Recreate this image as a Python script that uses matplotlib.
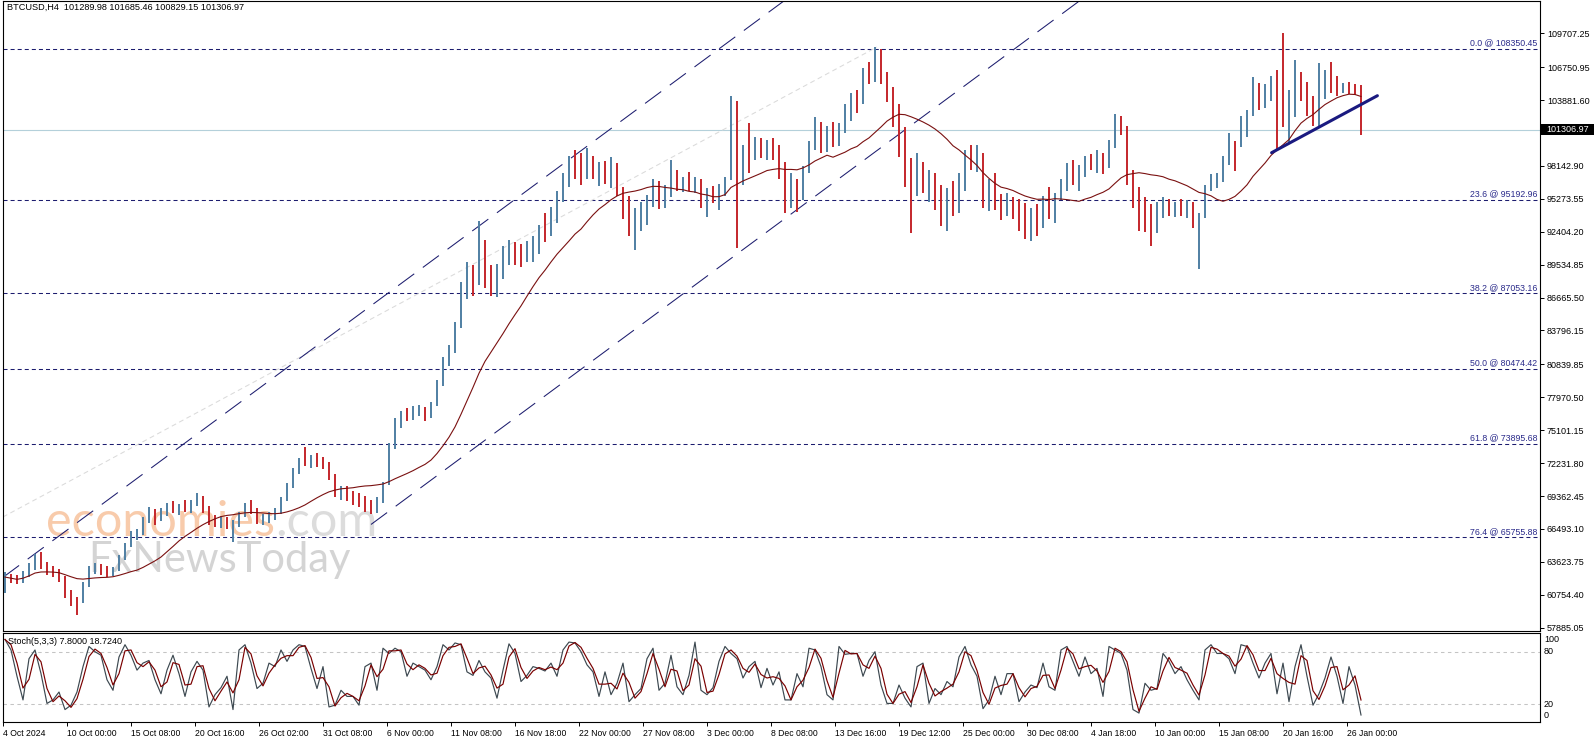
import numpy as np
import pandas as pd
import matplotlib
matplotlib.use("Agg")
import matplotlib.pyplot as plt
from matplotlib.patches import Rectangle

plt.rcParams['font.family'] = ['Liberation Sans', 'DejaVu Sans']
plt.rcParams['lines.scale_dashes'] = False

# 12h bars (open = previous close)
highs = [
    62700, 62600, 62500, 62800, 63500, 64300, 64500, 63600, 63300, 63000,
    62400, 61200, 60600, 61900, 63300, 63500, 63400, 63300, 63200, 64200,
    65300, 66300, 66500, 67500, 68400, 68200, 68300, 68800, 68900, 68700,
    69000, 69000, 69600, 69400, 68500, 67700, 67600, 67500, 67300, 68000,
    68800, 69000, 68300, 67800, 68000, 68300, 69300, 70500, 71800, 72700,
    73650, 72900, 73100, 72800, 72300, 71300, 70200, 70200, 69800, 69600,
    69400, 69000, 69300, 70600, 74000, 76200, 76800, 77000, 77200, 77300,
    77100, 77600, 79500, 81500, 82500, 84500, 88000, 89800, 89500, 93300,
    91700, 89500, 89600, 91200, 91700, 91500, 91300, 91600, 92000, 93000,
    94000, 94600, 96000, 97500, 99000, 99500, 99300, 99700, 99000, 98500,
    98600, 98900, 98400, 96300, 95500, 94500, 95000, 95600, 97000, 96800,
    96500, 98700, 97800, 97200, 97600, 97200, 97000, 96200, 96400, 96600,
    97200, 104200, 103800, 100000, 101900, 100700, 100600, 100400, 100600, 100000,
    98500, 97500, 97000, 98100, 100300, 102400, 102000, 101600, 102000, 101900,
    103500, 104500, 104800, 106700, 107200, 108500, 108300, 106300, 105000, 103500,
    101500, 98800, 99300, 98500, 97800, 97500, 96500, 96200, 96800, 97500,
    99500, 100000, 100000, 99300, 97000, 97500, 95700, 95800, 95400, 95300,
    94900, 94500, 94800, 95500, 96300, 95800, 97000, 98400, 98700, 98200,
    99000, 99200, 99500, 99300, 100400, 102700, 102500, 101600, 97800, 96300,
    95400, 94800, 95000, 95400, 95300, 95000, 95300, 95200, 95000, 94000,
    96500, 97400, 97500, 99000, 101000, 100300, 102500, 103000, 105900, 105400,
    105300, 106000, 106500, 109700, 104800, 107400, 106300, 105500, 104200, 107100,
    106500, 107200, 106000, 105400, 105500, 105300, 105200,
]
lows = [
    60900, 61800, 61700, 61800, 62300, 62900, 63000, 62500, 62300, 61900,
    60500, 59800, 58950, 60000, 61400, 62600, 62500, 62300, 62400, 62800,
    63800, 64900, 65500, 66000, 67000, 66800, 67200, 67600, 67900, 67700,
    68000, 67900, 68500, 67900, 66800, 66700, 66600, 66500, 65400, 66700,
    67500, 67800, 66900, 66800, 67000, 67300, 67800, 68900, 70100, 71300,
    72000, 71800, 71900, 71700, 70800, 69300, 69000, 68900, 68600, 68400,
    68000, 67800, 67900, 68800, 70300, 73500, 75300, 75900, 76000, 76300,
    75900, 76200, 77200, 79000, 80700, 81800, 84000, 86500, 86800, 87800,
    87500, 86800, 86700, 88300, 89500, 89500, 89300, 89800, 89800, 90500,
    91500, 92000, 93200, 95000, 96300, 97000, 96500, 97000, 97000, 96400,
    96600, 96200, 95500, 93500, 92000, 90800, 92500, 93000, 94600, 94400,
    94500, 95400, 96000, 95900, 96000, 95800, 94500, 93700, 94900, 94300,
    95500, 96900, 91000, 96500, 97500, 98700, 98800, 98700, 98700, 97000,
    94000, 94500, 94100, 95200, 97500, 99500, 99300, 99400, 99800, 99900,
    101000, 102100, 102800, 103500, 105300, 105500, 105300, 103700, 101500, 98900,
    96300, 92300, 95500, 95800, 95000, 94300, 92900, 92500, 93800, 94000,
    96000, 97800, 97600, 94500, 94200, 94300, 93400, 93800, 93500, 92500,
    91800, 91600, 92000, 92700, 93500, 93200, 95200, 96000, 96500, 96000,
    97200, 97800, 97500, 97400, 98000, 99700, 100800, 96500, 94500, 92500,
    92400, 91200, 92300, 93600, 93800, 93700, 93800, 93600, 92700, 89200,
    93600, 96000, 96200, 96700, 98200, 97700, 99800, 100700, 102500, 103000,
    103200, 103800, 99500, 101500, 100200, 102400, 103800, 102500, 101600, 101500,
    104000, 104500, 104200, 104500, 104400, 104300, 100829,
]
closes = [
    62300, 62100, 61900, 62500, 63200, 63900, 63300, 62800, 62600, 62200,
    60800, 60300, 60200, 61600, 62900, 63000, 62800, 62600, 63000, 64000,
    65100, 66000, 66200, 67300, 67600, 67500, 67900, 68600, 68200, 68400,
    68300, 68800, 69100, 68200, 67200, 67000, 67300, 66900, 67000, 67800,
    68500, 68200, 67200, 67400, 67700, 68000, 69100, 70300, 71500, 72500,
    72400, 72600, 72200, 72000, 71000, 69600, 69700, 69300, 69000, 68700,
    68500, 68200, 69100, 70400, 73800, 75800, 76400, 76300, 76800, 77000,
    76500, 77400, 79300, 81200, 82000, 84200, 87500, 88600, 88000, 90000,
    88000, 87500, 89200, 90500, 90800, 90300, 90000, 91000, 91500, 92500,
    92300, 94200, 95700, 97200, 98500, 98200, 97500, 98800, 97600, 98000,
    97000, 98000, 95900, 94000, 92800, 93000, 94700, 95300, 96000, 95500,
    95800, 97500, 96500, 96800, 96400, 96600, 95000, 95600, 95400, 96000,
    97000, 103500, 97800, 99500, 99000, 99800, 99300, 99900, 99200, 97700,
    95500, 96500, 96000, 97800, 100000, 101300, 100300, 101200, 100600, 101500,
    103200, 104000, 103300, 106300, 105600, 107300, 105800, 104200, 102300, 100300,
    97200, 96900, 97700, 96200, 96500, 94900, 94500, 95000, 94300, 97200,
    98700, 98300, 99100, 95200, 95700, 94900, 94700, 95100, 94000, 93400,
    92400, 93800, 92700, 94800, 94300, 95600, 96700, 97800, 97000, 97900,
    98500, 98300, 98900, 98200, 100100, 102300, 101400, 97200, 95400, 94000,
    93500, 92500, 94500, 94900, 94200, 94600, 94300, 94800, 93400, 93900,
    96300, 96900, 97000, 98700, 100000, 99800, 102000, 102600, 105200, 104200,
    104800, 105500, 102800, 101900, 102500, 106500, 105200, 103300, 102500, 104800,
    105800, 105200, 104700, 105100, 104800, 104700, 101306.97,
]
first_open = 61500

stoch_k = [
    94, 82, 52, 25, 72, 82, 55, 21, 25, 34,
    14, 19, 34, 63, 86, 80, 76, 48, 36, 74,
    88, 76, 59, 67, 70, 48, 32, 59, 76, 55,
    29, 57, 69, 59, 17, 31, 39, 52, 14, 82,
    88, 67, 38, 44, 67, 63, 82, 69, 82, 88,
    86, 61, 38, 63, 17, 19, 36, 29, 29, 19,
    63, 67, 36, 84, 78, 84, 80, 52, 67, 63,
    59, 48, 63, 88, 82, 90, 88, 57, 53, 70,
    57, 50, 27, 59, 89, 78, 46, 53, 63, 61,
    58, 67, 52, 82, 91, 90, 80, 65, 57, 29,
    57, 31, 44, 67, 23, 31, 38, 72, 84, 36,
    44, 76, 40, 31, 53, 91, 36, 31, 39, 69,
    86, 78, 72, 50, 63, 69, 39, 61, 42, 57,
    25, 25, 55, 40, 84, 82, 63, 31, 25, 86,
    77, 78, 78, 52, 70, 80, 42, 21, 21, 42,
    27, 17, 63, 67, 21, 38, 31, 46, 40, 74,
    86, 65, 52, 15, 25, 52, 31, 55, 55, 23,
    34, 42, 39, 67, 40, 36, 82, 86, 69, 52,
    74, 55, 61, 29, 86, 82, 78, 59, 14, 10,
    44, 36, 38, 78, 69, 55, 63, 48, 36, 25,
    82, 88, 78, 78, 72, 55, 88, 86, 67, 50,
    67, 78, 32, 67, 23, 63, 88, 52, 19, 32,
    50, 74, 52, 21, 63, 42, 7.8,
]

fib_levels = [108350.45, 95192.96, 87053.16, 80474.42, 73895.68, 65755.88]
fib_names = ["0.0", "23.6", "38.2", "50.0", "61.8", "76.4"]
last_price = 101306.97

price_ticks = [57885.05, 60754.40, 63623.75, 66493.10, 69362.45, 72231.80,
               75101.15, 77970.50, 80839.85, 83796.15, 86665.50, 89534.85,
               92404.20, 95273.55, 98142.90, 103881.60, 106750.95, 109707.25]
date_labels = ["4 Oct 2024", "10 Oct 00:00", "15 Oct 08:00", "20 Oct 16:00",
               "26 Oct 02:00", "31 Oct 08:00", "6 Nov 00:00", "11 Nov 08:00",
               "16 Nov 18:00", "22 Nov 00:00", "27 Nov 08:00", "3 Dec 00:00",
               "8 Dec 08:00", "13 Dec 16:00", "19 Dec 12:00", "25 Dec 00:00",
               "30 Dec 08:00", "4 Jan 18:00", "10 Jan 00:00", "15 Jan 08:00",
               "20 Jan 16:00", "26 Jan 00:00"]

# drawn objects (x in H4-bar units)
upper_chan = ([0, 400], [62276, 113756])
lower_chan = ([184, 545], [66885, 113404])
mid_line = ([0, 437], [67540, 108513])
trend_line = ([634.3, 687.2], [99298, 104267])

UP = "#4f7fa3"
DOWN = "#c4262b"
NAVY = "#1c1c6e"

n = len(closes)
bx = 1 + 3 * np.arange(n)
highs = np.array(highs, float)
lows = np.array(lows, float)
closes_a = np.array(closes, float)
opens = np.concatenate([[first_open], closes_a[:-1]])
up = closes_a >= opens

W, H = 1596, 743
fig = plt.figure(figsize=(W / 100, H / 100), dpi=100)


def fx(px):
    return px / W


def fy(py):
    return 1 - py / H


ax = fig.add_axes([fx(3), fy(630.7), fx(1540) - fx(3), fy(1) - fy(630.7)])
ax2 = fig.add_axes([fx(3), fy(721.7), fx(1540) - fx(3), fy(632.7) - fy(721.7)], sharex=ax)

for a in (ax, ax2):
    for s in a.spines.values():
        s.set_linewidth(0.8)
        s.set_color("black")

ax.set_xlim(0, 768.5)
ax.set_ylim(57623.5, 112523)

# watermark: "economies" orange, ".com" grey right after it
wm1 = ax.text(fx(46), fy(536), "economies", transform=fig.transFigure, fontsize=35,
              family="Lato", color="#f8cbab", zorder=0.5)
renderer = fig.canvas.get_renderer()
bb = wm1.get_window_extent(renderer)
ax.text(bb.x1 / fig.bbox.width, fy(536), ".com", transform=fig.transFigure, fontsize=35,
        family="Lato", color="#dcdcdc", zorder=0.5)
ax.text(fx(88), fy(572), "FxNewsToday", transform=fig.transFigure, fontsize=30,
        family="Lato", color="#d4d4d4", zorder=0.5)

# fib levels
for lv, nm in zip(fib_levels, fib_names):
    ax.plot([0, 767], [lv, lv], color=NAVY, lw=0.75, ls=(0, (2.9, 2.2)), zorder=1)
    ax.text(767, lv + 120, f"{nm} @ {lv:.2f}", ha="right", va="bottom",
            color="#2a2a8a", fontsize=6.3, zorder=3)

ax.axhline(last_price, color="#b4d0da", lw=0.8, zorder=1)

ax.plot(*mid_line, color="#dadada", lw=0.75, ls=(0, (3.5, 2.5)), zorder=1)
ax.plot(*upper_chan, color=NAVY, lw=0.75, ls=(0, (14.4, 7.7)), zorder=1)
ax.plot(*lower_chan, color=NAVY, lw=0.75, ls=(0, (14.4, 7.7)), zorder=1)

ax.vlines(bx[up], lows[up], highs[up], color=UP, lw=1.4, zorder=2)
ax.vlines(bx[~up], lows[~up], highs[~up], color=DOWN, lw=1.4, zorder=2)

ma = pd.Series(closes_a).rolling(17, min_periods=1).mean()
ax.plot(bx, ma, color="#7a1010", lw=0.8, zorder=3)

ax.plot(*trend_line, color="#1a1a80", lw=2.2, solid_capstyle="round", zorder=4)

ax.yaxis.tick_right()
ax.set_yticks(price_ticks)
ax.set_yticklabels([f"{t:.2f}" for t in price_ticks])
ax.tick_params(axis="y", length=3, width=0.7, pad=2, labelsize=6.5)
ax.tick_params(axis="x", bottom=False, labelbottom=False)

# current price box
fig.patches.append(Rectangle((fx(1541), fy(135)), fx(1594) - fx(1541), fy(124) - fy(135),
                             transform=fig.transFigure, figure=fig, facecolor="black",
                             edgecolor="none", zorder=5))
fig.text(fx(1546), fy(129.7), f"{last_price:.2f}", color="white", fontsize=6.5,
         va="center", ha="left", zorder=6)

fig.text(fx(7), fy(7.5), "BTCUSD,H4  101289.98 101685.46 100829.15 101306.97",
         fontsize=6.6, va="center", ha="left")

# stochastic
d = pd.Series(stoch_k).rolling(2, min_periods=1).mean()
ax2.set_ylim(0.15, 101.7)
for lv in (80, 20):
    ax2.axhline(lv, color="#c4c4c4", lw=0.75, ls=(0, (2.5, 2.5)))
ax2.plot(bx, stoch_k, color="#3c4850", lw=0.85)
ax2.plot(bx, d, color="#7a0000", lw=0.85)
ax2.set_yticks([])
ax2.set_xticks(32 * np.arange(len(date_labels)))
ax2.set_xticklabels(date_labels, ha="left")
ax2.tick_params(axis="x", length=3, width=0.7, pad=2, labelsize=6.2)

fig.text(fx(8), fy(641.7), "Stoch(5,3,3) 7.8000 18.7240", fontsize=6.5, va="center")
for txt, py in (("100", 639.7), ("80", 651.7), ("20", 704.3), ("0", 715.7)):
    fig.text(fx(1544), fy(py), txt, fontsize=6.5, va="center")

fig.savefig("out.png", dpi=100)
